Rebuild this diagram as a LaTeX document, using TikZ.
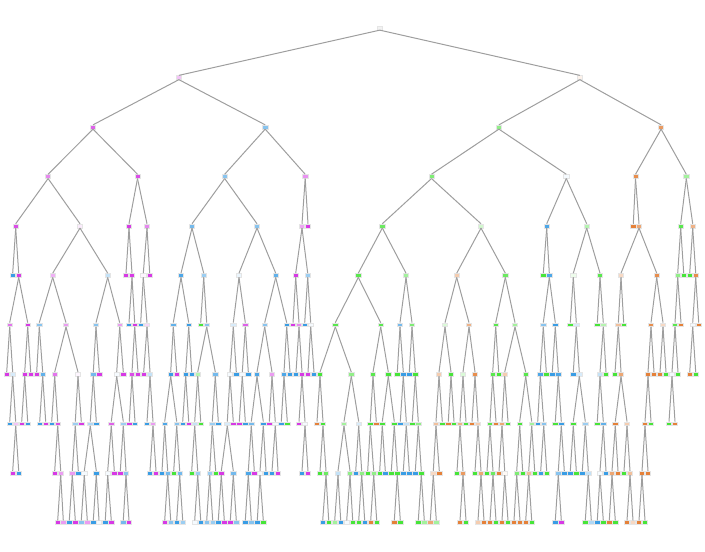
\documentclass[tikz,border=0pt]{standalone}
\usepackage{tikz}
\definecolor{cO}{HTML}{E58139}
\definecolor{cG}{HTML}{47E539}
\definecolor{cB}{HTML}{399DE5}
\definecolor{cM}{HTML}{D739E5}
\begin{document}
\begin{tikzpicture}[x=0.5pt,y=-0.5pt,
    tn/.style={rectangle, draw=black!10, line width=0.25pt, inner sep=0pt,
      minimum width=2.6pt, minimum height=1.9pt},
    edge/.style={draw=black!38, line width=0.5pt}]
        \useasboundingbox (0,0) rectangle (705,551);

        % depth 0 - 4
        \foreach \n/\x/\c in {A380/379.8/black!5}
            \node[tn, fill=\c!white] (\n) at (\x,28) {};
        \foreach \n/\x/\c in {B179/178.9/cM!30, B580/579.8/cO!10}
            \node[tn, fill=\c!white] (\n) at (\x,77.5) {};
        \foreach \n/\x/\c in {C93/93/cM!80, C265/265.2/cB!60, C499/498.9/cG!60, C661/661.1/cO!80}
            \node[tn, fill=\c!white] (\n) at (\x,127) {};
        \foreach \n/\x/\c in {D48/48.1/cM!60, D138/137.5/cM!90, D225/224.7/cB!60, D305/305.2/cM!55,
            D432/431.5/cG!70, D566/566.3/cB!5, D636/635.5/cO!90, D686/686.3/cG!50}
            \node[tn, fill=\c!white] (\n) at (\x,176.4) {};
        \foreach \n/\x/\c in {E16/15.7/cM!90, E80/80/cM!10, E129/129/cM!100, E147/147/cM!60,
            E192/192/cB!70, E257/257/cB!60, E302/302/cM!45, E308/308/cM!100,
            E382/382.3/cG!80, E481/481/cG!25, E547/546.7/cB!90, E587/586.7/cG!40,
            E633/633.3/cO!100, E639/639/cO!70, E681/680.7/cG!90, E693/692.7/cO!60}
            \node[tn, fill=\c!white] (\n) at (\x,225.9) {};

        % depth 5
        \foreach \n/\x/\c in {F13/12.7/cB!100, F19/18.7/cM!100, F53/52.7/cM!40, F108/107.7/cB!30,
            F126/126/cM!100, F132/132/cM!100, F143/143.3/cM!5, F150/149.7/cM!100,
            F181/181/cB!90, F204/203.7/cB!50, F239/239/cB!10, F276/275.7/cB!80,
            F296/295.7/cM!100, F308/307.7/cB!50, F358/358.3/cG!90, F406/406/cG!50,
            F457/456.7/cO!40, F505/505.3/cG!80, F543/543.3/cG!100, F549/549.3/cB!90,
            F573/573.3/cG!10, F600/600/cG!90, F621/621/cO!30, F657/656.7/cO!90,
            F678/677.7/cG!60, F684/683.7/cG!100, F690/689.7/cG!100, F696/695.7/cO!90}
            \node[tn, fill=\c!white] (\n) at (\x,275.3) {};

        % depth 6
        \foreach \n/\x/\c in {G10/9.7/cM!70, G28/27.7/cM!100, G39/39.3/cB!60, G66/66/cM!50,
            G96/96/cB!60, G120/119.7/cM!50, G129/129/cB!100, G135/134.7/cM!100,
            G141/140.7/cB!100, G147/147/cM!20, G173/173.3/cB!80, G189/188.7/cB!100,
            G201/200.7/cG!100, G207/206.7/cB!60, G233/233.3/cB!20, G245/245.3/cM!80,
            G265/264.7/cB!60, G287/286.7/cB!100, G293/293/cM!100, G299/299/cM!60,
            G305/304.7/cB!100, G311/310.7/cB!5, G335/335.3/cG!90, G381/380.7/cG!90,
            G400/400/cB!70, G412/412/cG!70, G445/445/cG!20, G469/469/cO!60,
            G496/495.7/cG!90, G515/515/cG!50, G543/543.3/cB!60, G555/555.3/cB!100,
            G570/570.3/cG!100, G576/576.3/cB!20, G597/597.3/cG!100, G603/603.3/cG!40,
            G618/618.3/cO!50, G624/623.7/cG!100, G651/651/cO!90, G663/663/cO!30,
            G675/675/cG!90, G681/681/cO!100, G693/692.7/cB!5, G699/698.7/cO!100}
            \node[tn, fill=\c!white] (\n) at (\x,324.8) {};

        % depth 7
        \foreach \n/\x/\c in {H7/6.7/cM!100, H13/12.7/cB!20, H25/24.7/cM!100, H31/30.7/cM!100,
            H37/36.7/cM!100, H43/42.7/cB!80, H55/54.7/cM!70, H78/78/cM!5,
            H93/93.3/cB!70, H99/99.3/cM!100, H117/116.7/cB!5, H123/123.3/cM!100,
            H132/132/cM!90, H138/138/cM!100, H144/143.7/cM!100, H150/150/cB!30,
            H171/170.7/cB!100, H177/176.7/cM!100, H186/185.7/cB!100, H192/191.7/cB!100,
            H198/197.7/cG!40, H215/215.3/cB!70, H230/230/cB!5, H236/236.3/cB!100,
            H242/242.3/cB!5, H248/248.3/cB!100, H257/257/cB!90, H272/272/cM!50,
            H284/284/cB!90, H290/290/cB!100, H296/296/cB!100, H302/302/cM!100,
            H308/308/cM!100, H314/314/cB!100, H320/320/cG!100, H351/351.3/cG!60,
            H373/373/cG!90, H388/388.3/cG!100, H397/397.3/cG!100, H403/403.3/cB!100,
            H409/409.3/cB!100, H415/415.3/cG!100, H439/439/cO!40, H451/451/cG!100,
            H463/463/cG!20, H475/475/cO!90, H493/492.7/cG!90, H499/498.7/cG!100,
            H505/504.7/cO!40, H526/525.7/cG!90, H540/540.3/cB!90, H546/546.3/cG!100,
            H552/552.3/cB!100, H558/558.3/cB!90, H573/573.3/cB!100, H579/579.3/cB!20,
            H600/600/cB!30, H606/606/cG!100, H615/615/cG!100, H621/621/cO!70,
            H648/648/cO!100, H654/654/cO!100, H660/660/cO!100, H666/666/cG!100,
            H672/672/cB!5, H678/678/cG!100, H690/689.7/cO!100, H696/695.7/cG!100}
            \node[tn, fill=\c!white] (\n) at (\x,374.2) {};

        % depth 8
        \foreach \n/\x/\c in {I10/9.7/cB!100, I16/15.7/cM!30, I22/21.7/cM!100, I28/27.7/cB!100,
            I40/39.7/cB!100, I46/45.7/cM!100, I52/51.7/cB!100, I58/57.7/cM!90,
            I75/75.3/cB!50, I81/81.3/cM!100, I90/90.3/cB!40, I96/96.3/cB!100,
            I111/111.3/cM!80, I123/123.3/cB!50, I129/129.3/cM!100, I135/135/cB!100,
            I147/147/cB!100, I153/153/cM!50, I165/164.7/cB!90, I177/176.7/cB!60,
            I183/182.7/cB!100, I189/188.7/cM!100, I195/194.7/cB!30, I201/200.7/cG!100,
            I212/212.3/cB!50, I218/218.3/cB!100, I227/227.3/cB!20, I233/233.3/cM!100,
            I239/239.3/cM!100, I245/245.3/cB!100, I251/251.3/cB!70, I263/263.3/cB!100,
            I269/269.3/cM!100, I275/275.3/cB!5, I281/281.3/cB!100, I287/287.3/cG!100,
            I299/299/cM!100, I305/305/cB!5, I317/317/cO!100, I323/323/cG!100,
            I344/344/cG!50, I359/358.7/cB!20, I370/370.3/cG!100, I376/376.3/cO!100,
            I382/382.3/cG!100, I394/394.3/cG!100, I400/400.3/cB!100, I406/406.3/cB!30,
            I412/412.3/cG!100, I418/418.3/cG!60, I436/436/cO!50, I442/442.3/cG!100,
            I448/448.3/cO!100, I454/454/cG!100, I460/460/cO!60, I466/466/cG!100,
            I472/472/cO!100, I478/478/cO!40, I490/490/cG!90, I496/496/cO!100,
            I502/502/cO!70, I508/508/cG!100, I520/519.7/cG!100, I532/531.7/cG!50,
            I538/537.7/cB!100, I544/543.7/cB!60, I555/555.3/cG!100, I561/561.3/cB!100,
            I573/573.3/cG!100, I585/585.3/cB!50, I597/597.3/cG!100, I603/603.3/cB!80,
            I615/615.3/cO!100, I627/627/cO!40, I645/645/cO!100, I651/651/cG!100,
            I669/669/cG!100, I675/675/cO!100}
            \node[tn, fill=\c!white] (\n) at (\x,423.7) {};

        % depth 9
        \foreach \n/\x/\c in {J13/12.7/cM!100, J19/18.7/cB!100, J55/54.7/cM!100, J61/60.7/cM!50,
            J72/72.3/cM!50, J78/78.3/cB!100, J84/84.3/cB!5, J96/96.3/cB!100,
            J108/107.7/cB!5, J114/114.3/cM!100, J120/120.3/cM!100, J126/126/cB!60,
            J150/150/cB!100, J156/156/cM!100, J162/162/cB!100, J168/167.7/cB!70,
            J174/173.7/cG!100, J180/179.7/cB!70, J192/191.7/cG!100, J198/197.7/cB!50,
            J210/209.7/cB!50, J216/215.7/cG!100, J221/221.3/cM!100, J233/233.3/cB!70,
            J248/248.3/cB!90, J254/254.3/cM!100, J260/260/cB!5, J266/266/cB!100,
            J272/272/cB!100, J278/278/cM!100, J302/302/cB!100, J308/308/cM!100,
            J320/320/cG!100, J326/326/cG!80, J338/338/cB!30, J350/350/cG!60,
            J356/355.7/cB!100, J362/361.7/cG!60, J368/367.7/cG!100, J374/373.7/cG!60,
            J380/379.7/cG!100, J385/385.3/cB!100, J391/391.3/cG!100, J397/397.3/cG!100,
            J403/403.3/cB!100, J409/409.3/cB!100, J415/415.3/cB!100, J421/421.3/cG!100,
            J433/433.3/cO!30, J439/439.3/cO!100, J457/457/cG!100, J463/463/cO!80,
            J475/475/cG!100, J481/481/cO!70, J487/487/cG!100, J493/493/cG!80,
            J499/499/cO!100, J505/504.7/cO!5, J517/516.7/cG!70, J523/522.7/cG!100,
            J529/528.7/cO!50, J535/534.7/cG!100, J541/540.7/cB!100, J547/546.7/cG!100,
            J558/558.3/cB!60, J564/564.3/cB!100, J570/570.3/cB!100, J576/576.3/cG!100,
            J582/582.3/cB!100, J588/588.3/cB!30, J600/600/cB!5, J606/606/cB!100,
            J612/612/cO!70, J618/618/cO!100, J624/624/cG!100, J630/630/cO!50,
            J642/642/cO!100, J648/648/cO!100}
            \node[tn, fill=\c!white] (\n) at (\x,473.1) {};

        % depth 10
        \foreach \n/\x/\c in {K58/57.7/cM!100, K63/63.3/cM!50, K69/69.3/cB!100, K75/75.3/cM!100,
            K81/81.3/cB!60, K87/87.3/cM!50, K93/93.3/cB!100, K99/99/cB!5,
            K105/105.3/cB!100, K111/111.3/cM!100, K123/123.3/cB!70, K129/129/cM!100,
            K165/164.7/cM!100, K171/170.7/cB!60, K177/176.7/cB!100, K183/182.7/cB!50,
            K195/194.7/cB!5, K201/200.7/cB!100, K207/206.7/cB!60, K213/212.7/cB!50,
            K218/218.3/cB!100, K224/224.3/cM!100, K230/230.3/cM!100, K236/236.3/cB!60,
            K245/245.3/cB!100, K251/251.3/cB!60, K257/257.3/cB!100, K263/263.3/cG!100,
            K323/322.7/cB!100, K329/328.7/cG!100, K335/334.7/cG!50, K341/340.7/cB!100,
            K347/346.7/cB!5, K353/352.7/cG!100, K359/358.7/cG!100, K365/364.7/cB!100,
            K371/370.7/cO!100, K377/376.7/cG!100, K394/394.3/cO!100, K400/400.3/cG!100,
            K418/418.3/cG!100, K424/424.3/cG!50, K430/430.3/cO!70, K436/436.3/cG!50,
            K460/460/cO!100, K466/466/cG!100, K478/478/cO!40, K484/484/cO!100,
            K490/490/cO!100, K496/496/cG!100, K502/502/cO!100, K508/508/cG!100,
            K514/514/cO!100, K520/520/cO!100, K526/525.7/cO!100, K532/531.7/cG!100,
            K555/555.3/cB!100, K561/561.3/cM!100, K585/585.3/cG!100, K591/591.3/cB!40,
            K597/597.3/cB!100, K603/603.3/cG!100, K609/609.3/cO!100, K615/615.3/cG!100,
            K627/627/cO!100, K633/633/cO!30, K639/639/cO!100, K645/645/cG!100}
            \node[tn, fill=\c!white] (\n) at (\x,522.6) {};

        % splits
        \foreach \p/\q in {A380/B179, A380/B580, B179/C93, B179/C265, B580/C499, B580/C661,
            C93/D48, C93/D138, C265/D225, C265/D305, C499/D432, C499/D566, C661/D636, C661/D686,
            D48/E16, D48/E80, D138/E129, D138/E147, D225/E192, D225/E257, D305/E302, D305/E308,
            D432/E382, D432/E481, D566/E547, D566/E587, D636/E633, D636/E639, D686/E681, D686/E693,
            E16/F13, E16/F19, E80/F53, E80/F108, E129/F126, E129/F132, E147/F143, E147/F150,
            E192/F181, E192/F204, E257/F239, E257/F276, E302/F296, E302/F308, E382/F358, E382/F406,
            E481/F457, E481/F505, E547/F543, E547/F549, E587/F573, E587/F600, E639/F621, E639/F657,
            E681/F678, E681/F684, E693/F690, E693/F696}
            \draw[edge] (\p.south) -- (\q.north);
        \foreach \p/\q in {F19/G10, F19/G28, F53/G39, F53/G66, F108/G96, F108/G120,
            F132/G129, F132/G135, F143/G141, F143/G147, F181/G173, F181/G189, F204/G201, F204/G207,
            F239/G233, F239/G245, F276/G265, F276/G287, F296/G293, F296/G299, F308/G305, F308/G311,
            F358/G335, F358/G381, F406/G400, F406/G412, F457/G445, F457/G469, F505/G496, F505/G515,
            F549/G543, F549/G555, F573/G570, F573/G576, F600/G597, F600/G603, F621/G618, F621/G624,
            F657/G651, F657/G663, F678/G675, F678/G681, F696/G693, F696/G699}
            \draw[edge] (\p.south) -- (\q.north);
        \foreach \p/\q in {G10/H7, G10/H13, G28/H25, G28/H31, G39/H37, G39/H43, G66/H55, G66/H78,
            G96/H93, G96/H99, G120/H117, G120/H123, G135/H132, G135/H138, G147/H144, G147/H150,
            G173/H171, G173/H177, G189/H186, G189/H192, G207/H198, G207/H215, G233/H230, G233/H236,
            G245/H242, G245/H248, G265/H257, G265/H272, G287/H284, G287/H290, G299/H296, G299/H302,
            G311/H308, G311/H314, G335/H320, G335/H351, G381/H373, G381/H388, G400/H397, G400/H403,
            G412/H409, G412/H415, G445/H439, G445/H451, G469/H463, G469/H475, G496/H493, G496/H499,
            G515/H505, G515/H526, G543/H540, G543/H546, G555/H552, G555/H558, G576/H573, G576/H579,
            G603/H600, G603/H606, G618/H615, G618/H621, G651/H648, G651/H654, G663/H660, G663/H666,
            G675/H672, G675/H678, G693/H690, G693/H696}
            \draw[edge] (\p.south) -- (\q.north);
        \foreach \p/\q in {H13/I10, H13/I16, H25/I22, H25/I28, H43/I40, H43/I46, H55/I52, H55/I58,
            H78/I75, H78/I81, H93/I90, H93/I96, H117/I111, H117/I123, H132/I129, H132/I135,
            H150/I147, H150/I153, H171/I165, H171/I177, H186/I183, H186/I189, H198/I195, H198/I201,
            H215/I212, H215/I218, H230/I227, H230/I233, H242/I239, H242/I245, H257/I251, H257/I263,
            H272/I269, H272/I275, H284/I281, H284/I287, H302/I299, H302/I305, H320/I317, H320/I323,
            H351/I344, H351/I359, H373/I370, H373/I376, H388/I382, H388/I394, H403/I400, H403/I406,
            H415/I412, H415/I418, H439/I436, H439/I442, H451/I448, H451/I454, H463/I460, H463/I466,
            H475/I472, H475/I478, H493/I490, H493/I496, H505/I502, H505/I508, H526/I520, H526/I532,
            H540/I538, H540/I544, H558/I555, H558/I561, H579/I573, H579/I585, H600/I597, H600/I603,
            H621/I615, H621/I627, H648/I645, H648/I651, H672/I669, H672/I675}
            \draw[edge] (\p.south) -- (\q.north);
        \foreach \p/\q in {I16/J13, I16/J19, I58/J55, I58/J61, I75/J72, I75/J78, I90/J84, I90/J96,
            I111/J108, I111/J114, I123/J120, I123/J126, I153/J150, I153/J156, I165/J162, I165/J168,
            I177/J174, I177/J180, I195/J192, I195/J198, I212/J210, I212/J216, I227/J221, I227/J233,
            I251/J248, I251/J254, I263/J260, I263/J266, I275/J272, I275/J278, I305/J302, I305/J308,
            I323/J320, I323/J326, I344/J338, I344/J350, I359/J356, I359/J362, I370/J368, I370/J374,
            I382/J380, I382/J385, I394/J391, I394/J397, I406/J403, I406/J409, I418/J415, I418/J421,
            I436/J433, I436/J439, I460/J457, I460/J463, I478/J475, I478/J481, I490/J487, I490/J493,
            I502/J499, I502/J505, I520/J517, I520/J523, I532/J529, I532/J535, I544/J541, I544/J547,
            I561/J558, I561/J564, I573/J570, I573/J576, I585/J582, I585/J588, I603/J600, I603/J606,
            I615/J612, I615/J618, I627/J624, I627/J630, I645/J642, I645/J648}
            \draw[edge] (\p.south) -- (\q.north);
        \foreach \p/\q in {J61/K58, J61/K63, J72/K69, J72/K75, J84/K81, J84/K87, J96/K93, J96/K99,
            J108/K105, J108/K111, J126/K123, J126/K129, J168/K165, J168/K171, J180/K177, J180/K183,
            J198/K195, J198/K201, J210/K207, J210/K213, J221/K218, J221/K224, J233/K230, J233/K236,
            J248/K245, J248/K251, J260/K257, J260/K263, J326/K323, J326/K329, J338/K335, J338/K341,
            J350/K347, J350/K353, J362/K359, J362/K365, J374/K371, J374/K377, J397/K394, J397/K400,
            J421/K418, J421/K424, J433/K430, J433/K436, J463/K460, J463/K466, J481/K478, J481/K484,
            J493/K490, J493/K496, J505/K502, J505/K508, J517/K514, J517/K520, J529/K526, J529/K532,
            J558/K555, J558/K561, J588/K585, J588/K591, J600/K597, J600/K603, J612/K609, J612/K615,
            J630/K627, J630/K633, J642/K639, J642/K645}
            \draw[edge] (\p.south) -- (\q.north);
\end{tikzpicture}
\end{document}
